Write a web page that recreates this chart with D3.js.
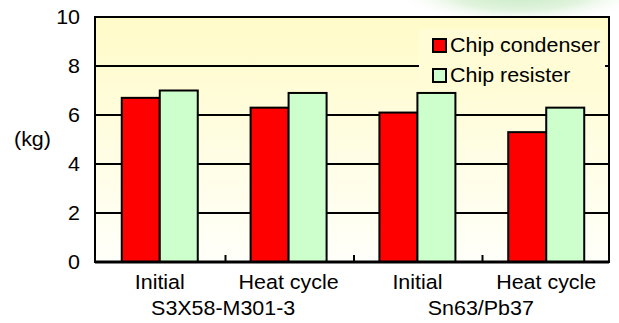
<!DOCTYPE html>
<html>
<head>
<meta charset="utf-8">
<script src="https://cdn.jsdelivr.net/npm/d3@7"></script>
<style>
  body { margin: 0; background: #fff; }
  text { font-family: "Liberation Sans", Arial, sans-serif; fill: #000; font-size: 19.5px; }
</style>
</head>
<body>
<div id="chart"></div>
<script>
// chart data
var categories = ["S3X58-M301-3|Initial", "S3X58-M301-3|Heat cycle", "Sn63/Pb37|Initial", "Sn63/Pb37|Heat cycle"];
var catLabels = ["Initial", "Heat cycle", "Initial", "Heat cycle"];
var groups = ["S3X58-M301-3", "Sn63/Pb37"];
var seriesNames = ["Chip condenser", "Chip resister"];
var condenser = [6.7, 6.3, 6.1, 5.3];
var resister = [7.0, 6.9, 6.9, 6.3];
var yTicks = [0, 2, 4, 6, 8, 10];

var W = 619, H = 323;
var margin = {top: 17, right: 10, bottom: 61, left: 95},
    width = W - margin.left - margin.right,
    height = H - margin.top - margin.bottom;

var svg = d3.select("#chart").append("svg")
    .attr("width", W)
    .attr("height", H);

var defs = svg.append("defs");
var bg = defs.append("linearGradient").attr("id", "bg")
    .attr("x1", 0).attr("y1", 0).attr("x2", 0).attr("y2", 1);
bg.append("stop").attr("offset", "0%").attr("stop-color", "#fffbc8");
bg.append("stop").attr("offset", "100%").attr("stop-color", "#fffffa");

var glow = defs.append("radialGradient").attr("id", "glow");
glow.append("stop").attr("offset", "0%").attr("stop-color", "#c6eac4");
glow.append("stop").attr("offset", "55%").attr("stop-color", "#e2f4de");
glow.append("stop").attr("offset", "100%").attr("stop-color", "#ffffff").attr("stop-opacity", 0);

// decorative green glow at top right
svg.append("ellipse")
    .attr("cx", 520).attr("cy", -6)
    .attr("rx", 125).attr("ry", 30)
    .attr("fill", "url(#glow)");

var g = svg.append("g")
    .attr("transform", "translate(" + margin.left + "," + margin.top + ")");

// slightly wide text, like the original
function label(sel, x, y, anchor, txt) {
  return sel.append("text")
      .attr("transform", "translate(" + x + "," + y + ") scale(1.1,1)")
      .attr("text-anchor", anchor)
      .text(txt);
}

// scales
var x0 = d3.scaleBand().domain(categories).range([0, width]).paddingInner(0.41).paddingOuter(0.2);
var x1 = d3.scaleBand().domain(seriesNames).range([0, x0.bandwidth()]);
var xEdge = d3.scaleBand().domain(categories).range([0, width]);
var y = d3.scaleLinear().domain([0, 10]).range([height, 0]);

// plot background
g.append("rect")
    .attr("width", width).attr("height", height)
    .attr("fill", "url(#bg)");

// gridlines
g.selectAll(".grid")
    .data(yTicks.filter(function(d) { return d > 0 && d < 10; }))
  .enter().append("line")
    .attr("x1", 0).attr("x2", width)
    .attr("y1", function(d) { return y(d); })
    .attr("y2", function(d) { return y(d); })
    .attr("stroke", "#000").attr("stroke-width", 2);

// bars
var series = [condenser, resister];
var colors = ["#ff0000", "#ccffcc"];
categories.forEach(function(c, i) {
  seriesNames.forEach(function(s, j) {
    g.append("rect")
        .attr("x", x0(c) + x1(s) + 1)
        .attr("y", y(series[j][i]))
        .attr("width", x1.bandwidth())
        .attr("height", height - y(series[j][i]))
        .attr("fill", colors[j])
        .attr("stroke", "#000")
        .attr("stroke-width", 2);
  });
});

// legend (covers gridline)
var lg = g.append("g").attr("transform", "translate(324,12)");
lg.append("rect").attr("x", 0).attr("y", 0).attr("width", 186).attr("height", 62)
    .attr("fill", "#fffcd6");
seriesNames.forEach(function(s, j) {
  lg.append("rect")
      .attr("x", 14).attr("y", 10 + j * 30)
      .attr("width", 13).attr("height", 13)
      .attr("fill", colors[j]).attr("stroke", "#000").attr("stroke-width", 2);
  label(lg, 31, 23 + j * 30, "start", s);
});

// plot frame
g.append("rect")
    .attr("width", width).attr("height", height)
    .attr("fill", "none").attr("stroke", "#000").attr("stroke-width", 2);
g.append("line")
    .attr("x1", 0).attr("x2", width)
    .attr("y1", height).attr("y2", height)
    .attr("stroke", "#000").attr("stroke-width", 3);

// ticks between categories along the x axis
g.selectAll(".xtick")
    .data(categories.slice(1))
  .enter().append("line")
    .attr("x1", function(d) { return xEdge(d) + 2; })
    .attr("x2", function(d) { return xEdge(d) + 2; })
    .attr("y1", height).attr("y2", height - 7)
    .attr("stroke", "#000").attr("stroke-width", 2);

// y tick labels
yTicks.forEach(function(d) {
  label(g, -15, y(d) + 7, "end", d);
});

label(g, -81, 129, "start", "(kg)");

// category labels
categories.forEach(function(c, i) {
  label(g, x0(c) + x0.bandwidth() / 2 + 1, height + 27, "middle", catLabels[i]);
});
groups.forEach(function(grp, k) {
  var a = categories[k * 2], b = categories[k * 2 + 1];
  var cx = (x0(a) + x0(b) + x0.bandwidth()) / 2;
  label(g, cx, height + 53, "middle", grp);
});
</script>
</body>
</html>
